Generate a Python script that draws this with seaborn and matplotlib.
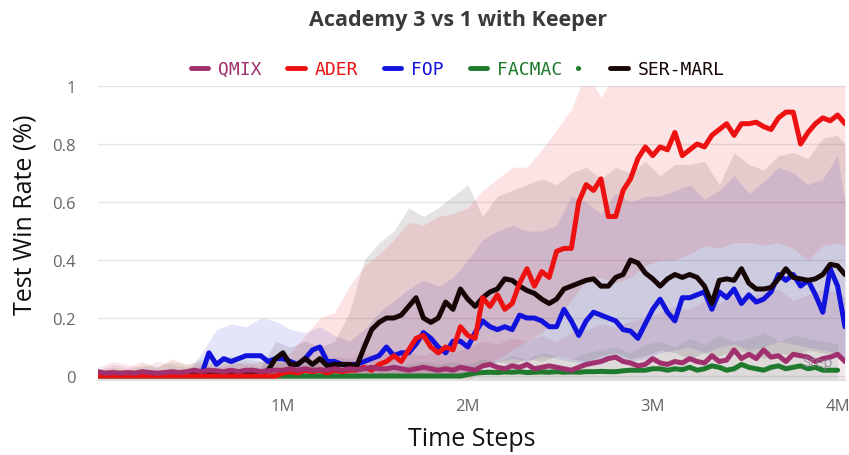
import numpy as np
import pandas as pd
import matplotlib
matplotlib.use('Agg')
import matplotlib.pyplot as plt
import seaborn as sns
from matplotlib.lines import Line2D

# x grid: 0 .. 4.04M every 40k (lines), every 80k for the shaded bands
steps = np.round(np.arange(102) * 0.04, 2) * 1e6
band_steps = np.append(np.round(np.arange(51) * 0.08, 2), 4.04) * 1e6

methods = ['QMIX', 'ADER', 'FOP', 'FACMAC', 'SER-MARL']
colors = {'QMIX': '#A0306E', 'ADER': '#EE1111', 'FOP': '#1212DD',
          'FACMAC': '#1F7A2E', 'SER-MARL': '#160606'}

qmix = [0.015, 0.01, 0.012, 0.01, 0.012, 0.01, 0.015, 0.012, 0.01, 0.012,
        0.015, 0.012, 0.015, 0.02, 0.015, 0.02, 0.018, 0.015, 0.02, 0.015,
        0.02, 0.02, 0.015, 0.018, 0.02, 0.02, 0.025, 0.02, 0.025, 0.02,
        0.022, 0.02, 0.025, 0.02, 0.025, 0.022, 0.025, 0.03, 0.025, 0.025,
        0.03, 0.025, 0.02, 0.025, 0.03, 0.025, 0.02, 0.025, 0.02, 0.03,
        0.025, 0.02, 0.035, 0.04, 0.03, 0.025, 0.035, 0.03, 0.04, 0.025,
        0.03, 0.035, 0.03, 0.025, 0.02, 0.03, 0.04, 0.045, 0.05, 0.06,
        0.065, 0.05, 0.045, 0.035, 0.04, 0.06, 0.045, 0.04, 0.05, 0.045,
        0.06, 0.05, 0.045, 0.07, 0.05, 0.055, 0.09, 0.06, 0.075, 0.06,
        0.09, 0.065, 0.07, 0.05, 0.075, 0.07, 0.065, 0.05, 0.06, 0.065,
        0.075, 0.05]
ader = [0, 0, 0, 0, 0, 0, 0, 0, 0, 0,
        0, 0, 0, 0, 0, 0, 0, 0, 0, 0,
        0, 0, 0, 0, 0, 0.01, 0.015, 0.01, 0.02, 0.015,
        0.02, 0.01, 0.02, 0.015, 0.02, 0.02, 0.03, 0.02, 0.04, 0.05,
        0.07, 0.05, 0.09, 0.13, 0.14, 0.10, 0.08, 0.10, 0.09, 0.17,
        0.14, 0.13, 0.27, 0.24, 0.28, 0.23, 0.25, 0.32, 0.37, 0.31,
        0.36, 0.34, 0.43, 0.44, 0.44, 0.60, 0.66, 0.64, 0.68, 0.55,
        0.55, 0.64, 0.68, 0.75, 0.79, 0.76, 0.79, 0.78, 0.84, 0.76,
        0.78, 0.80, 0.79, 0.83, 0.85, 0.87, 0.83, 0.87, 0.87, 0.875,
        0.86, 0.85, 0.89, 0.91, 0.91, 0.80, 0.84, 0.87, 0.89, 0.88,
        0.90, 0.87]
fop = [0.005, 0.005, 0.005, 0.005, 0.005, 0.005, 0.005, 0.005, 0.005, 0.005,
       0.005, 0.005, 0.005, 0.005, 0.005, 0.08, 0.04, 0.06, 0.05, 0.06,
       0.07, 0.07, 0.07, 0.05, 0.06, 0.06, 0.05, 0.04, 0.06, 0.09,
       0.10, 0.05, 0.05, 0.04, 0.04, 0.04, 0.05, 0.06, 0.07, 0.10,
       0.07, 0.08, 0.08, 0.11, 0.15, 0.13, 0.10, 0.08, 0.12, 0.12,
       0.10, 0.15, 0.19, 0.17, 0.16, 0.17, 0.16, 0.21, 0.20, 0.20,
       0.19, 0.17, 0.17, 0.23, 0.19, 0.14, 0.19, 0.22, 0.21, 0.20,
       0.19, 0.16, 0.155, 0.13, 0.18, 0.23, 0.265, 0.22, 0.19, 0.27,
       0.27, 0.28, 0.29, 0.23, 0.29, 0.27, 0.30, 0.25, 0.28, 0.255,
       0.265, 0.29, 0.35, 0.33, 0.35, 0.31, 0.33, 0.28, 0.22, 0.37,
       0.31, 0.17]
facmac = [0, 0, 0, 0, 0, 0, 0, 0, 0, 0,
          0, 0, 0, 0, 0, 0, 0, 0, 0, 0,
          0, 0, 0, 0, 0, 0, 0, 0, 0, 0,
          0, 0, 0, 0, 0, 0, 0, 0, 0, 0,
          0, 0, 0, 0, 0, 0, 0, 0, 0, 0,
          0.005, 0.01, 0.012, 0.013, 0.012, 0.014, 0.013, 0.015, 0.012, 0.013,
          0.014, 0.013, 0.015, 0.013, 0.014, 0.013, 0.015, 0.015, 0.016, 0.015,
          0.015, 0.018, 0.02, 0.02, 0.02, 0.025, 0.025, 0.02, 0.025, 0.022,
          0.03, 0.02, 0.025, 0.035, 0.03, 0.02, 0.025, 0.04, 0.03, 0.025,
          0.02, 0.03, 0.035, 0.025, 0.03, 0.035, 0.025, 0.03, 0.02, 0.02,
          0.02, np.nan]
ser_marl = [0.005, 0.005, 0.005, 0.005, 0.005, 0.005, 0.005, 0.005, 0.005, 0.005,
            0.005, 0.005, 0.005, 0.005, 0.005, 0.005, 0.005, 0.005, 0.005, 0.005,
            0.005, 0.005, 0.01, 0.02, 0.06, 0.08, 0.04, 0.04, 0.06, 0.04,
            0.06, 0.035, 0.04, 0.04, 0.04, 0.035, 0.10, 0.16, 0.185, 0.20,
            0.20, 0.21, 0.24, 0.27, 0.20, 0.185, 0.20, 0.255, 0.23, 0.30,
            0.265, 0.24, 0.27, 0.29, 0.30, 0.335, 0.33, 0.31, 0.295, 0.285,
            0.265, 0.25, 0.265, 0.30, 0.31, 0.32, 0.33, 0.335, 0.31, 0.31,
            0.34, 0.35, 0.40, 0.39, 0.355, 0.335, 0.31, 0.335, 0.35, 0.34,
            0.35, 0.34, 0.31, 0.25, 0.33, 0.335, 0.33, 0.37, 0.32, 0.30,
            0.30, 0.305, 0.335, 0.37, 0.34, 0.335, 0.33, 0.335, 0.35, 0.385,
            0.38, 0.35]

# shaded bands (lower / upper), 52 points on band_steps
ader_lo = [-0.02] * 26 + [0.03, 0.06, 0.09, 0.12, 0.15, 0.20, 0.26, 0.33, 0.34, 0.32,
                          0.34, 0.38, 0.40, 0.40, 0.42, 0.45, 0.44, 0.46, 0.46, 0.45,
                          0.46, 0.44, 0.40, 0.45, 0.46, 0.45]
ader_hi = [0.02, 0.04, 0.03, 0.05, 0.03, 0.06, 0.04, 0.05, 0.04, 0.05,
           0.04, 0.05, 0.05, 0.08, 0.14, 0.20, 0.22, 0.31, 0.38, 0.42,
           0.47, 0.53, 0.52, 0.55, 0.56, 0.58, 0.64, 0.68, 0.72, 0.72,
           0.78, 0.85, 0.92, 1.05, 0.96, 1.05, 1.05, 1.05, 1.05, 1.05,
           1.05, 1.05, 1.05, 1.05, 1.05, 1.05, 1.05, 1.05, 1.05, 1.05,
           1.05, 1.05]
ser_lo = [-0.02] * 18 + [0.0] * 8 + [0.03, 0.05, 0.04, 0.06, 0.05, 0.07, 0.06, 0.05,
                                      0.07, 0.08, 0.06, 0.07, 0.09, 0.08, 0.06, 0.08,
                                      0.07, 0.09, 0.08, 0.06, 0.08, 0.07, 0.09, 0.08,
                                      0.07, 0.06]
ser_hi = [0.01, 0.02, 0.01, 0.02, 0.015, 0.02, 0.01, 0.02, 0.02, 0.015,
          0.02, 0.03, 0.12, 0.10, 0.12, 0.10, 0.12, 0.22, 0.40, 0.46,
          0.50, 0.58, 0.55, 0.58, 0.62, 0.66, 0.55, 0.62, 0.64, 0.66,
          0.68, 0.66, 0.70, 0.72, 0.68, 0.72, 0.70, 0.74, 0.69, 0.73,
          0.73, 0.74, 0.66, 0.77, 0.73, 0.71, 0.76, 0.77, 0.75, 0.82,
          0.83, 0.80]
fop_lo = [-0.02] * 8 + [0.0] * 18 + [0.04, 0.05, 0.06, 0.05, 0.07, 0.06, 0.05, 0.04,
                                      0.06, 0.07, 0.05, 0.06, 0.08, 0.09, 0.10, 0.08,
                                      0.10, 0.11, 0.09, 0.10, 0.12, 0.11, 0.10, 0.09,
                                      0.08, 0.06]
fop_hi = [0.01, 0.01, 0.01, 0.01, 0.01, 0.01, 0.01, 0.08, 0.16, 0.18,
          0.17, 0.20, 0.19, 0.16, 0.15, 0.17, 0.14, 0.12, 0.16, 0.22,
          0.26, 0.30, 0.33, 0.31, 0.34, 0.40, 0.47, 0.50, 0.52, 0.50,
          0.50, 0.52, 0.62, 0.60, 0.56, 0.63, 0.60, 0.62, 0.62, 0.64,
          0.66, 0.61, 0.64, 0.69, 0.63, 0.67, 0.72, 0.70, 0.66, 0.68,
          0.76, 0.60]
qmix_lo = [-0.02] * 52
qmix_hi = [0.03, 0.05, 0.04, 0.03, 0.05, 0.04, 0.03, 0.04, 0.03, 0.04,
           0.05, 0.03, 0.04, 0.05, 0.06, 0.05, 0.07, 0.06, 0.08, 0.07,
           0.09, 0.08, 0.07, 0.09, 0.08, 0.10, 0.12, 0.11, 0.13, 0.12,
           0.14, 0.12, 0.15, 0.16, 0.18, 0.17, 0.19, 0.20, 0.22, 0.24,
           0.23, 0.26, 0.25, 0.28, 0.27, 0.29, 0.30, 0.26, 0.28, 0.30,
           0.29, 0.27]
facmac_lo = [-0.02] * 51 + [np.nan]
facmac_hi = [0.02, 0.03, 0.02, 0.04, 0.03, 0.05, 0.04, 0.06, 0.05, 0.07,
             0.06, 0.05, 0.07, 0.05, 0.04, 0.05, 0.04, 0.05, 0.03, 0.04,
             0.03, 0.04, 0.05, 0.04, 0.05, 0.04, 0.06, 0.05, 0.07, 0.06,
             0.08, 0.07, 0.06, 0.08, 0.09, 0.10, 0.08, 0.11, 0.12, 0.10,
             0.13, 0.11, 0.14, 0.12, 0.13, 0.15, 0.12, 0.14, 0.13, 0.12,
             0.11, np.nan]

yticks = [0, 0.2, 0.4, 0.6, 0.8, 1.0]
ytick_labels = ['0', '0.2', '0.4', '0.6', '0.8', '1']
xticks = [1e6, 2e6, 3e6, 4e6]
xtick_labels = ['1M', '2M', '3M', '4M']

means = {'QMIX': qmix, 'ADER': ader, 'FOP': fop, 'FACMAC': facmac, 'SER-MARL': ser_marl}
bands = {'QMIX': (qmix_lo, qmix_hi), 'ADER': (ader_lo, ader_hi), 'FOP': (fop_lo, fop_hi),
         'FACMAC': (facmac_lo, facmac_hi), 'SER-MARL': (ser_lo, ser_hi)}

df = pd.concat([pd.DataFrame({'step': steps, 'win': means[m], 'method': m}) for m in methods])
df = df.dropna()

sns.set_style('white')
plt.rcParams['font.family'] = ['Open Sans', 'DejaVu Sans']

fig = plt.figure(figsize=(8.49, 4.56), dpi=100)
ax = fig.add_axes([98 / 849, 1 - 380.5 / 456, 747 / 849, 293.5 / 456])

draw_order = ['FACMAC', 'FOP', 'SER-MARL', 'ADER', 'QMIX']
for m in draw_order:
    lo, hi = bands[m]
    ax.fill_between(band_steps, lo, hi, color=colors[m], alpha=0.11, linewidth=0, zorder=1)

sns.lineplot(data=df, x='step', y='win', hue='method', hue_order=draw_order,
             palette=colors, linewidth=3.6, estimator=None, errorbar=None,
             legend=False, ax=ax, zorder=3)

ax.set_xlim(0, 4.04e6)
ax.set_ylim(-0.012, 1.0)
ax.set_yticks(yticks)
ax.set_yticklabels(ytick_labels)
ax.set_xticks(xticks)
ax.set_xticklabels(xtick_labels)
ax.set_xlabel('')
ax.set_ylabel('')
ax.grid(axis='y', color='#e6e6e6', linewidth=1)
ax.set_axisbelow(True)
for s in ['top', 'right', 'left']:
    ax.spines[s].set_visible(False)
ax.spines['bottom'].set_color('#e0e0e0')
ax.spines['bottom'].set_linewidth(1.5)
ax.spines['bottom'].set_zorder(4)
ax.tick_params(axis='y', length=0, pad=16, labelsize=12, labelcolor='#666666')
ax.tick_params(axis='x', direction='inout', length=11, width=1.5, color='white',
               pad=8, labelsize=12, labelcolor='#666666')

ax.text(3.89e6, 0.045, 'Step', fontsize=10.5, color='#8a7a90', alpha=0.75,
        ha='center', va='center', zorder=5)

fig.text(0.539, 0.956, 'Academy 3 vs 1 with Keeper', ha='center', va='center',
         fontsize=15.5, fontweight='bold', color='#3a3a3a')
fig.text(25 / 849, 1 - 215 / 456, 'Test Win Rate (%)', rotation=90, ha='center',
         va='center', fontsize=18, color='#111111')
fig.text(472 / 849, 1 - 440 / 456, 'Time Steps', ha='center', va='center',
         fontsize=18, color='#111111')

legend_labels = {'QMIX': 'QMIX', 'ADER': 'ADER', 'FOP': 'FOP', 'FACMAC': 'FACMAC \u2022',
                 'SER-MARL': 'SER-MARL'}
handles = [Line2D([0], [0], color=colors[m], linewidth=3.5) for m in methods]
fig.legend(handles, [legend_labels[m] for m in methods], loc='center',
           bbox_to_anchor=(0.539, 1 - 70 / 456), ncol=5, frameon=False,
           handlelength=0.95, handletextpad=0.55, columnspacing=1.45,
           labelcolor=[colors[m] for m in methods],
           prop={'family': 'DejaVu Sans Mono', 'size': 13})

fig.savefig('out.png', dpi=100)
